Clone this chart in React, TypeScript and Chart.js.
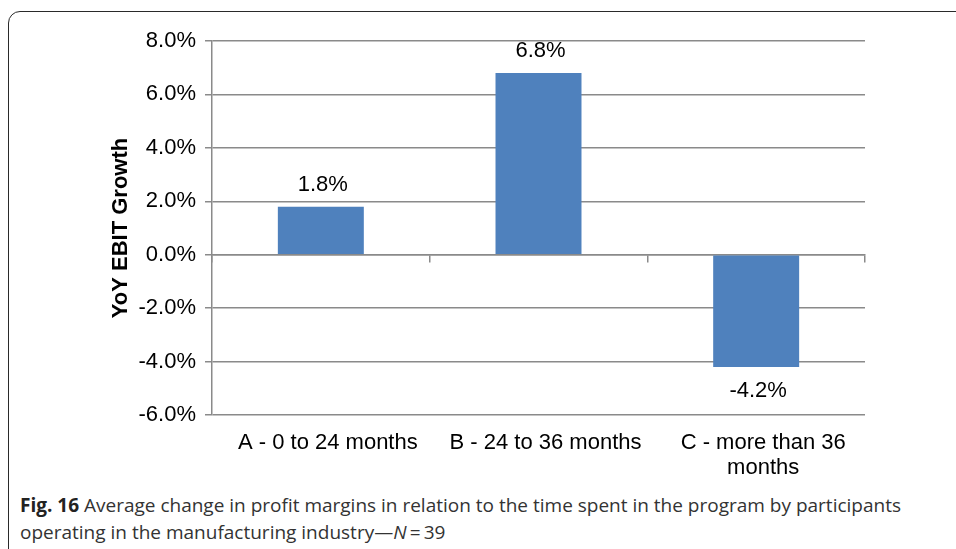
import React, { useEffect, useRef } from "react";
import { Chart, registerables } from "chart.js";

Chart.register(...registerables);

const categories: (string | string[])[] = [
  "A - 0 to 24 months",
  "B - 24 to 36 months",
  ["C - more than 36", "months"],
];
const growthValues: number[] = [1.8, 6.8, -4.2];
const yMin = -6;
const yMax = 8;
const yStep = 2;
const yTitle = "YoY EBIT Growth";

const BAR_COLOR = "#4F81BD";
const GRID = "#8a8a8a";
const FONT = '"Liberation Sans", Arial, Helvetica, sans-serif';

const valueLabels = {
  id: "valueLabels",
  afterDatasetsDraw(chart: any) {
    const ctx = chart.ctx;
    const meta = chart.getDatasetMeta(0);
    ctx.save();
    ctx.font = `22px ${FONT}`;
    ctx.fillStyle = "#000";
    ctx.textAlign = "center";
    ctx.textBaseline = "middle";
    meta.data.forEach((bar: any, i: number) => {
      const v = growthValues[i];
      const { x, y } = bar.getProps(["x", "y"], true);
      const ty = v >= 0 ? y - 22 : y + 24;
      ctx.fillText(`${v.toFixed(1)}%`, x + 2, ty);
    });
    ctx.restore();
  },
};

export default function App() {
  const ref = useRef<HTMLCanvasElement | null>(null);

  useEffect(() => {
    if (!ref.current) return;
    const chart = new Chart(ref.current, {
      type: "bar",
      data: {
        labels: categories as any,
        datasets: [
          {
            data: growthValues,
            backgroundColor: BAR_COLOR,
            borderWidth: 0,
            barPercentage: 0.395,
            categoryPercentage: 1,
          },
        ],
      },
      plugins: [valueLabels],
      options: {
        responsive: false,
        animation: false,
        devicePixelRatio: 1,
        layout: { padding: { top: 41, right: 91, left: 0, bottom: 0 } },
        plugins: {
          legend: { display: false },
          tooltip: { enabled: false },
        },
        scales: {
          x: {
            type: "category",
            position: { y: 0 } as any,
            offset: true,
            grid: {
              display: true,
              offset: true,
              drawOnChartArea: false,
              drawTicks: true,
              tickLength: 7,
              color: GRID,
              lineWidth: 1.5,
            },
            border: { display: true, color: GRID, width: 1.5 },
            ticks: { display: false },
            afterFit: (s: any) => {
              s.height = 0;
            },
          },
          xLabels: {
            type: "category",
            position: "bottom",
            offset: true,
            grid: { display: false, drawTicks: false },
            border: { display: false },
            ticks: {
              color: "#000",
              font: { family: FONT, size: 22, lineHeight: 1.15 },
              padding: 15,
              labelOffset: 7,
              maxRotation: 0,
              autoSkip: false,
            },
            afterFit: (s: any) => {
              s.height = 75;
            },
          },
          y: {
            min: yMin,
            max: yMax,
            ticks: {
              stepSize: yStep,
              color: "#000",
              font: { family: FONT, size: 22 },
              padding: 9,
              callback: (v: any) => `${Number(v).toFixed(1)}%`,
            },
            grid: { color: GRID, lineWidth: 1.5, tickLength: 7, drawTicks: true },
            border: { display: true, color: GRID, width: 1.5 },
            title: {
              display: true,
              text: yTitle,
              color: "#000",
              font: { family: FONT, size: 22, weight: "bold" },
              padding: { top: 108, bottom: 0 },
            },
            afterFit: (s: any) => {
              s.width = 212;
            },
          },
        } as any,
      },
    });
    return () => chart.destroy();
  }, []);

  return (
    <div
      style={{
        position: "fixed",
        left: 0,
        top: 0,
        width: 956,
        height: 549,
        overflow: "hidden",
        background: "#fff",
      }}
    >
      <div
        style={{
          position: "absolute",
          left: 8,
          top: 11,
          width: 1100,
          height: 700,
          border: "1.5px solid #2a2a2a",
          borderRadius: 12,
          boxSizing: "border-box",
        }}
      />
      <canvas
        ref={ref}
        width={956}
        height={490}
        style={{ position: "absolute", left: 0, top: 0, width: 956, height: 490 }}
      />
      <div
        style={{
          position: "absolute",
          left: 20,
          top: 492,
          fontFamily: '"Open Sans", "Noto Sans", sans-serif',
          fontSize: 19,
          lineHeight: "27px",
          color: "#333",
          whiteSpace: "nowrap",
        }}
      >
        <span style={{ fontWeight: 700, color: "#222" }}>Fig. 16</span> Average change in profit
        margins in relation to the time spent in the program by participants
        <br />
        operating in the manufacturing industry—<i>N</i>{"\u2009=\u2009"}39
      </div>
    </div>
  );
}
